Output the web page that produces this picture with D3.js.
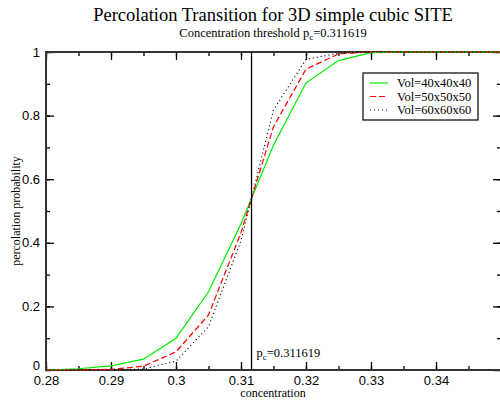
<!DOCTYPE html>
<html>
<head>
<meta charset="utf-8">
<script src="https://cdn.jsdelivr.net/npm/d3@7"></script>
<style>
  body { margin: 0; background: #fff; }
  svg { font-family: "Liberation Serif", "DejaVu Serif", serif; }
</style>
</head>
<body>
<svg id="chart" width="500" height="401"></svg>
<script>
// concentration values (x)
const concentration = [0.28, 0.285, 0.29, 0.295, 0.3, 0.305, 0.31, 0.315, 0.32, 0.325, 0.33, 0.335, 0.34, 0.345, 0.35];
// percolation probability for each volume
const vol40 = [0.0, 0.004, 0.013, 0.034, 0.10, 0.246, 0.46, 0.707, 0.903, 0.973, 0.998, 1, 1, 1, 1];
const vol50 = [0.0, 0.0, 0.002, 0.012, 0.057, 0.173, 0.432, 0.765, 0.946, 0.994, 1, 1, 1, 1, 1];
const vol60 = [0.0, 0.0, 0.0, 0.003, 0.028, 0.136, 0.407, 0.818, 0.977, 0.996, 1, 1, 1, 1, 1];
const seriesNames = ["Vol=40x40x40", "Vol=50x50x50", "Vol=60x60x60"];
const xTicks = [0.28, 0.29, 0.3, 0.31, 0.32, 0.33, 0.34];
const yTicks = [0, 0.2, 0.4, 0.6, 0.8, 1];
const pc = 0.311619;

const svg = d3.select("#chart");
const pLeft = 46, pRight = 501, pTop = 52, pBottom = 370;

const x = d3.scaleLinear().domain([0.28, 0.35]).range([pLeft, pRight]);
const y = d3.scaleLinear().domain([0, 1]).range([pBottom, pTop]);

const fmt = d => String(+d.toFixed(3));

// title
svg.append("text")
  .attr("x", 273).attr("y", 21)
  .attr("text-anchor", "middle")
  .style("font-size", "18.5px")
  .text("Percolation Transition for 3D simple cubic SITE");

const sub = svg.append("text")
  .attr("x", 273).attr("y", 37)
  .attr("text-anchor", "middle")
  .style("font-size", "12.5px");
sub.append("tspan").text("Concentration threshold p");
sub.append("tspan").attr("dy", 3).style("font-size", "9px").text("c");
sub.append("tspan").attr("dy", -3).text("=0.311619");

// minor ticks
const xMinor = d3.range(0.28, 0.3501, 0.005);
const yMinor = d3.range(0, 1.001, 0.1);

function styleAxis(g) {
  g.select(".domain").remove();
  g.selectAll(".tick line").attr("stroke", "#000").attr("stroke-width", 1.3);
  g.selectAll(".tick text").style("font-size", "13px").attr("fill", "#000");
}

// bottom
svg.append("g").attr("transform", `translate(0,${pBottom})`)
  .call(d3.axisBottom(x).tickValues(xMinor).tickSize(-4).tickFormat(""))
  .call(styleAxis);
svg.append("g").attr("transform", `translate(0,${pBottom})`)
  .call(d3.axisBottom(x).tickValues(xTicks).tickSize(-8).tickFormat(fmt))
  .call(styleAxis)
  .selectAll(".tick text").attr("y", 5).attr("dy", "0.75em");
// top
svg.append("g").attr("transform", `translate(0,${pTop})`)
  .call(d3.axisTop(x).tickValues(xMinor).tickSize(-4).tickFormat(""))
  .call(styleAxis);
svg.append("g").attr("transform", `translate(0,${pTop})`)
  .call(d3.axisTop(x).tickValues(xTicks).tickSize(-8).tickFormat(""))
  .call(styleAxis);
// left
svg.append("g").attr("transform", `translate(${pLeft},0)`)
  .call(d3.axisLeft(y).tickValues(yMinor).tickSize(-4).tickFormat(""))
  .call(styleAxis);
svg.append("g").attr("transform", `translate(${pLeft},0)`)
  .call(d3.axisLeft(y).tickValues(yTicks).tickSize(-8).tickPadding(6).tickFormat(fmt))
  .call(styleAxis)
  .selectAll(".tick text").attr("dy", d => d === 0 ? "-0.05em" : "0.32em");
// right
svg.append("g").attr("transform", `translate(${pRight},0)`)
  .call(d3.axisRight(y).tickValues(yMinor).tickSize(-4).tickFormat(""))
  .call(styleAxis);
svg.append("g").attr("transform", `translate(${pRight},0)`)
  .call(d3.axisRight(y).tickValues(yTicks).tickSize(-8).tickFormat(""))
  .call(styleAxis);

// frame
svg.append("rect")
  .attr("x", pLeft).attr("y", pTop)
  .attr("width", pRight - pLeft).attr("height", pBottom - pTop)
  .attr("fill", "none").attr("stroke", "#333").attr("stroke-width", 2);

// axis labels
svg.append("text")
  .attr("x", 273).attr("y", 397)
  .attr("text-anchor", "middle")
  .style("font-size", "12px")
  .text("concentration");
svg.append("text")
  .attr("transform", `translate(20,${(pTop + pBottom) / 2}) rotate(-90)`)
  .attr("text-anchor", "middle")
  .style("font-size", "12px")
  .text("percolation probability");

// series
const series = [
  { name: seriesNames[0], values: vol40, color: "#00ee00", dash: null },
  { name: seriesNames[1], values: vol50, color: "#ff0000", dash: "6,3" },
  { name: seriesNames[2], values: vol60, color: "#000000", dash: "1,3" }
];

const line = d3.line()
  .x((d, i) => x(concentration[i]))
  .y(d => y(d));

svg.selectAll(".series")
  .data(series)
  .enter()
  .append("path")
  .attr("class", "series")
  .attr("d", d => line(d.values))
  .attr("fill", "none")
  .attr("stroke", d => d.color)
  .attr("stroke-width", 1.2)
  .attr("stroke-dasharray", d => d.dash);

// threshold line
svg.append("line")
  .attr("x1", x(pc)).attr("x2", x(pc))
  .attr("y1", pTop).attr("y2", pBottom)
  .attr("stroke", "#000").attr("stroke-width", 1.3);

const pl = svg.append("text")
  .attr("x", x(pc) + 5).attr("y", 357)
  .style("font-size", "12.5px");
pl.append("tspan").text("p");
pl.append("tspan").attr("dy", 3).style("font-size", "9px").text("c");
pl.append("tspan").attr("dy", -3).text("=0.311619");

// legend
const lg = svg.append("g").attr("transform", "translate(363,73)");
lg.append("rect")
  .attr("width", 115).attr("height", 47)
  .attr("fill", "#fff").attr("stroke", "#000").attr("stroke-width", 1.2);
const items = lg.selectAll(".item")
  .data(series)
  .enter()
  .append("g")
  .attr("transform", (d, i) => `translate(0,${10 + i * 13.5})`);
items.append("line")
  .attr("x1", 7).attr("x2", 25)
  .attr("stroke", d => d.color)
  .attr("stroke-width", 1.2)
  .attr("stroke-dasharray", d => d.dash);
items.append("text")
  .attr("x", 34).attr("dy", "0.35em")
  .style("font-size", "12.5px")
  .text(d => d.name);
</script>
</body>
</html>
